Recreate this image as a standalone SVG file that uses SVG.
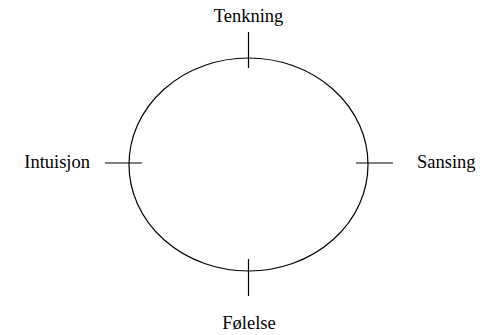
<svg xmlns="http://www.w3.org/2000/svg" width="485" height="335" viewBox="0 0 485 335">
<style>
.s{fill:none;stroke:#000;stroke-width:1.2}
text{font-family:"Liberation Serif","Times New Roman",serif;font-size:18.5px;fill:#000}
</style>
<rect width="485" height="335" fill="#fff"/>
<g id="circle"><ellipse class="s" cx="248.5" cy="164.5" rx="119.5" ry="106.5"/></g>
<g id="connectors">
<line class="s" x1="248.5" y1="32" x2="248.5" y2="68"/>
<line class="s" x1="248.5" y1="259" x2="248.5" y2="296"/>
<line class="s" x1="105" y1="163" x2="142" y2="163"/>
<line class="s" x1="356" y1="163" x2="393" y2="163"/>
</g>
<g id="tenkning"><text x="248.5" y="22" text-anchor="middle">Tenkning</text></g>
<g id="intuisjon"><text x="90" y="168" text-anchor="end">Intuisjon</text></g>
<g id="sansing"><text x="417" y="168">Sansing</text></g>
<g id="folelse"><text x="249" y="329" text-anchor="middle">Følelse</text></g>
</svg>
